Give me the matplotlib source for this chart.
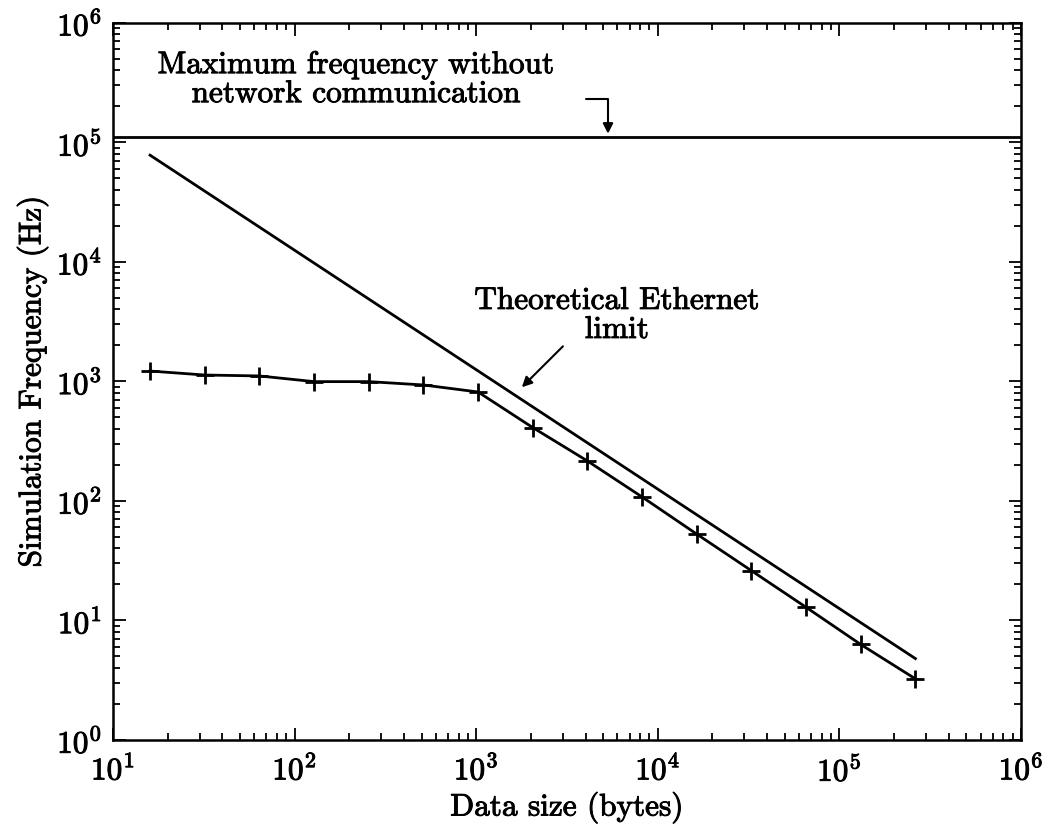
import numpy as np
import matplotlib
matplotlib.use("Agg")
import matplotlib.pyplot as plt
import matplotlib.patheffects as pe

# data sizes (bytes) and measured simulation frequency (Hz)
sizes = [16, 32, 64, 128, 256, 512, 1024, 2048, 4096, 8192,
         16384, 32768, 65536, 131072, 262144]
freq = [1220, 1130, 1110, 995, 995, 933, 815, 411, 216, 108,
        52.8, 26.1, 12.9, 6.3, 3.25]

# theoretical ethernet limit (end points)
theo_x = [16, 262144]
theo_y = [78000, 4.8]

# max frequency without network communication
max_freq = 1.116e5

plt.rcParams['font.family'] = 'serif'
plt.rcParams['font.serif'] = ['cmr10']
plt.rcParams['mathtext.fontset'] = 'cm'
plt.rcParams['axes.formatter.use_mathtext'] = True
plt.rcParams['axes.unicode_minus'] = False

fs = 22.5
bold = [pe.withStroke(linewidth=0.7, foreground='black')]

fig = plt.figure(figsize=(10.52, 8.26), dpi=100)
ax = fig.add_axes([0.1074, 0.1041, 0.8631, 0.8684])

ax.plot(theo_x, theo_y, color='black', lw=2.0)
ax.plot(sizes, freq, color='black', lw=2.0, marker='+', ms=13, mew=2.0)
ax.axhline(max_freq, color='black', lw=2.0)

ax.set_xscale('log')
ax.set_yscale('log')
ax.set_xlim(10, 1e6)
ax.set_ylim(1, 1e6)

ax.tick_params(which='both', direction='in', top=True, right=True,
               labelsize=fs, width=1.3)
ax.tick_params(which='major', length=9)
ax.tick_params(axis='x', which='major', pad=10)
ax.tick_params(axis='y', which='major', pad=8)
ax.tick_params(which='minor', length=5)
for s in ax.spines.values():
    s.set_linewidth(1.8)

ax.set_xlabel('Data size (bytes)', fontsize=fs, labelpad=4)
ax.set_ylabel('Simulation Frequency (Hz)', fontsize=fs, labelpad=6)

ax.text(218, 3.34e5, 'Maximum frequency without\nnetwork communication',
        ha='center', va='center', fontsize=fs, multialignment='center',
        linespacing=1.05)
ax.annotate('', xy=(5320, max_freq), xytext=(3870, 2.32e5),
            arrowprops=dict(arrowstyle='-|>', color='black', lw=1.5,
                            mutation_scale=15,
                            connectionstyle='angle,angleA=0,angleB=90,rad=0'))

ax.text(5960, 3560, 'Theoretical Ethernet\nlimit',
        ha='center', va='center', fontsize=fs, multialignment='center',
        linespacing=1.05)
ax.annotate('', xy=(1741, 860), xytext=(3080, 2040),
            arrowprops=dict(arrowstyle='-|>', color='black', lw=1.5,
                            mutation_scale=15))

for t in (ax.texts + ax.get_xticklabels() + ax.get_yticklabels()
          + [ax.xaxis.label, ax.yaxis.label]):
    t.set_path_effects(bold)

fig.savefig('out.png', dpi=100)
